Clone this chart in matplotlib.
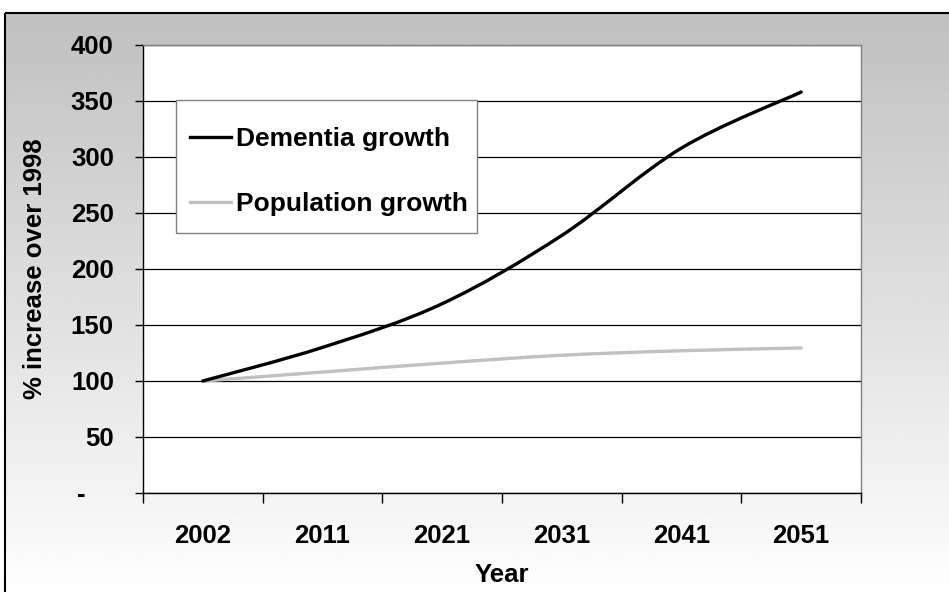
import numpy as np
import matplotlib
matplotlib.use("Agg")
from matplotlib import pyplot as plt
from matplotlib.path import Path
from matplotlib.patches import PathPatch, Rectangle
from matplotlib.lines import Line2D

years = ["2002", "2011", "2021", "2031", "2041", "2051"]
dementia = [100, 130, 169, 230, 308, 358]
population = [100, 108, 116, 123, 127, 129.5]
yticks = [0, 50, 100, 150, 200, 250, 300, 350, 400]
ytick_labels = ["-    ", "50", "100", "150", "200", "250", "300", "350", "400"]

plt.rcParams["font.family"] = ["Liberation Sans", "DejaVu Sans"]
plt.rcParams["font.weight"] = "bold"
FS = 18.5

W, H = 949, 592
fig = plt.figure(figsize=(W / 100, H / 100), dpi=100)
fig.patch.set_facecolor("white")

# background gradient + outer frame (pixel coords)
bg = fig.add_axes([0, 0, 1, 1], zorder=-10)
bg.axis("off")
grad = np.linspace(192, 255, 256)[:, None] / 255.0
bg.imshow(np.repeat(grad, 2, axis=1), cmap="gray", vmin=0, vmax=1,
          extent=(5, W + 5, 600, 13), aspect="auto")
bg.add_patch(Rectangle((5, 13), W + 10, H, fill=False, ec="black", lw=1.5))
bg.set_xlim(0, W)
bg.set_ylim(H, 0)

ax = fig.add_axes([143 / W, 1 - 493 / H, (861 - 143) / W, (493 - 45) / H])
ax.set_facecolor("white")


def smooth_path(xs, ys):
    # Excel-like smoothed line: cubic bezier through the points
    pts = np.column_stack([xs, ys]).astype(float)
    n = len(pts)
    verts = [pts[0]]
    codes = [Path.MOVETO]
    for i in range(n - 1):
        p0 = pts[max(i - 1, 0)]
        p1 = pts[i]
        p2 = pts[i + 1]
        p3 = pts[min(i + 2, n - 1)]
        c1 = p1 + (p2 - p0) / 6.0
        c2 = p2 - (p3 - p1) / 6.0
        verts += [c1, c2, p2]
        codes += [Path.CURVE4] * 3
    return Path(verts, codes)


x = np.arange(len(years))
ax.add_patch(PathPatch(smooth_path(x, population), fill=False, ec="#c0c0c0",
                       lw=2.4, capstyle="round", zorder=3))
ax.add_patch(PathPatch(smooth_path(x, dementia), fill=False, ec="black",
                       lw=2.4, capstyle="round", zorder=4))

ax.set_xlim(-0.5, len(years) - 0.5)
ax.set_ylim(0, 400)

ax.set_yticks(yticks)
ax.set_yticklabels(ytick_labels)
ax.tick_params(axis="y", direction="out", length=6, width=1, pad=15,
               labelsize=FS)
for t in ax.get_yticklabels():
    t.set_fontweight("bold")
ax.yaxis.grid(True, color="black", lw=0.9)
ax.set_axisbelow(True)

ax.set_xticks(np.arange(-0.5, len(years), 1.0))
ax.set_xticklabels([])
ax.set_xticks(x, minor=True)
ax.set_xticklabels(years, minor=True, fontsize=FS, fontweight="bold")
ax.tick_params(axis="x", which="major", direction="out", length=7, width=1)
ax.tick_params(axis="x", which="minor", length=0, pad=22)

for s in ["left", "bottom"]:
    ax.spines[s].set_color("black")
    ax.spines[s].set_linewidth(1)
for s in ["top", "right"]:
    ax.spines[s].set_color("#808080")
    ax.spines[s].set_linewidth(1)

ax.set_xlabel("Year", fontsize=FS, fontweight="bold", labelpad=11)
ax.set_ylabel("% increase over 1998", fontsize=FS, fontweight="bold",
              labelpad=17)

# legend box drawn in figure pixels, entries from a frameless legend
lax = fig.add_axes([0, 0, 1, 1], zorder=5)
lax.axis("off")
lax.set_xlim(0, W)
lax.set_ylim(H, 0)
lax.add_patch(Rectangle((176, 100), 301, 133, fc="white", ec="#808080",
                        lw=1))

handles = [Line2D([], [], color="black", lw=2.4),
           Line2D([], [], color="#c0c0c0", lw=2.4)]
leg = lax.legend(handles, ["Dementia growth", "Population growth"],
                 loc="upper left", bbox_to_anchor=(178 / W, 1 - 115 / H),
                 bbox_transform=fig.transFigure,
                 borderaxespad=0, frameon=False,
                 prop={"size": 19, "weight": "bold"}, handlelength=1.55,
                 handletextpad=0.2, labelspacing=1.55, borderpad=0.45)

fig.savefig("out.png", dpi=100)
